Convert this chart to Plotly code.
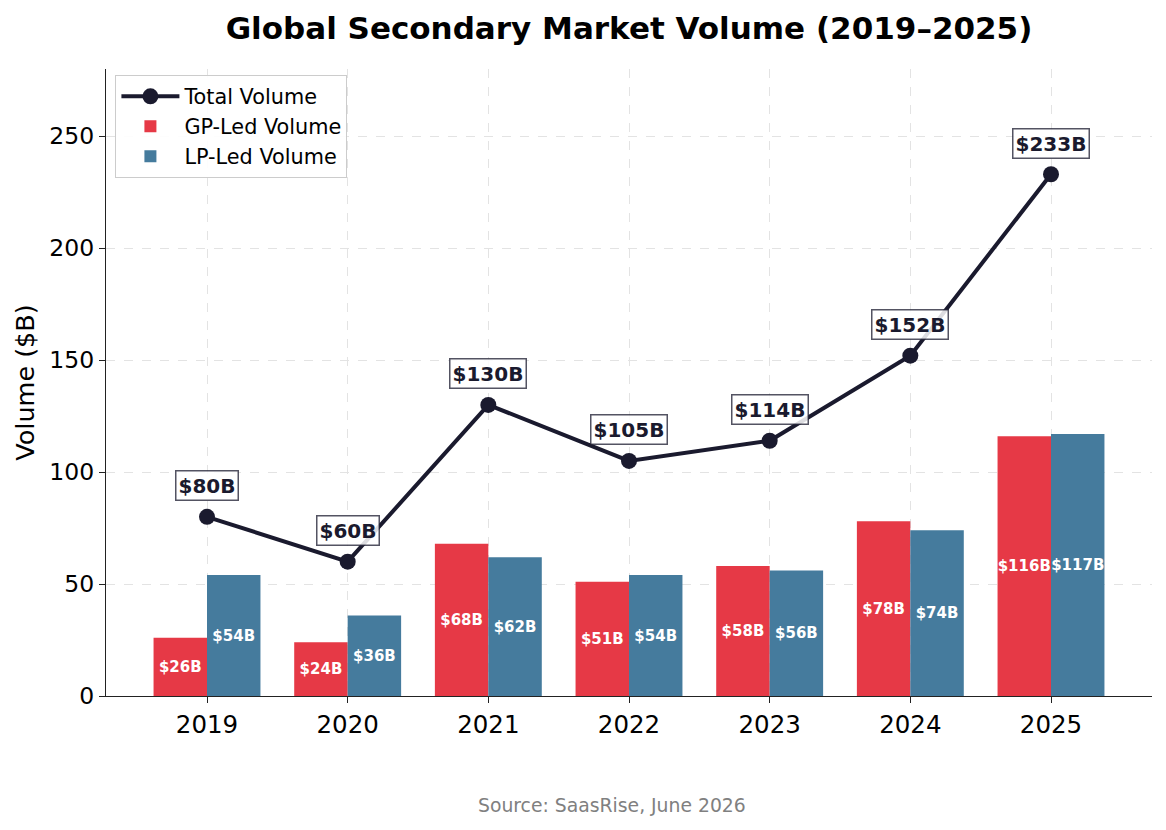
import plotly.graph_objects as go

years = [2019, 2020, 2021, 2022, 2023, 2024, 2025]
gp_led = [26, 24, 68, 51, 58, 78, 116]
lp_led = [54, 36, 62, 54, 56, 74, 117]
total = [80, 60, 130, 105, 114, 152, 233]
y_ticks = [0, 50, 100, 150, 200, 250]

RED = "#e63946"
BLUE = "#457b9d"
DARK = "#1a1a2e"
FONT = "DejaVu Sans"

fig = go.Figure()

fig.add_trace(go.Bar(
    x=years, y=gp_led, name="GP-Led Volume", marker_color=RED,
    marker_line_width=0,
    text=[f"${v}B" for v in gp_led], textposition="inside",
    insidetextanchor="middle", textangle=0, constraintext="none",
    textfont=dict(family=FONT, size=15, color="white", weight="bold"),
    legendrank=2,
))
fig.add_trace(go.Bar(
    x=years, y=lp_led, name="LP-Led Volume", marker_color=BLUE,
    marker_line_width=0,
    text=[f"${v}B" for v in lp_led], textposition="inside",
    insidetextanchor="middle", textangle=0, constraintext="none",
    textfont=dict(family=FONT, size=15, color="white", weight="bold"),
    legendrank=3,
))
fig.add_trace(go.Scatter(
    x=years, y=total, name="Total Volume", mode="lines+markers",
    line=dict(color=DARK, width=4), marker=dict(color=DARK, size=16),
    legendrank=1,
))

for yr, v in zip(years, total):
    fig.add_annotation(
        x=yr, y=v, xref="x", yref="y", text=f"<b>${v}B</b>", showarrow=False,
        yshift=31, font=dict(family=FONT, size=20, color=DARK),
        bgcolor="rgba(255,255,255,0.85)", bordercolor="rgba(26,26,46,0.75)",
        borderwidth=1.5, borderpad=2,
    )

fig.add_annotation(
    x=0.4833, y=-0.174, xref="paper", yref="paper", text="Source: SaasRise, June 2026",
    showarrow=False, font=dict(family=FONT, size=18.8, color="#808080"),
    xanchor="center", yanchor="middle",
)

fig.update_layout(
    width=1166, height=830,
    margin=dict(l=106, r=14, t=69, b=134),
    paper_bgcolor="white", plot_bgcolor="white",
    font=dict(family=FONT, color="black"),
    title=dict(text="<b>Global Secondary Market Volume (2019–2025)</b>",
               x=0.5, xref="paper", xanchor="center",
               y=1 - 28 / 830, yref="container", yanchor="middle",
               font=dict(family=FONT, size=31, color="black")),
    barmode="group", bargap=0.24, bargroupgap=0,
    showlegend=True,
    legend=dict(x=0.009, y=0.99, xanchor="left", yanchor="top",
                bgcolor="rgba(255,255,255,0.9)", bordercolor="#cccccc", borderwidth=1,
                font=dict(family=FONT, size=20.8, color="black"),
                itemwidth=58, tracegroupgap=0),
)

fig.update_xaxes(
    range=[2019 - 0.718, 2025 + 0.718], tickvals=years, ticktext=[str(y) for y in years],
    showline=True, linecolor="#222222", linewidth=1.3, mirror=False,
    ticks="outside", ticklen=6, tickwidth=1.3, tickcolor="#222222",
    tickfont=dict(family=FONT, size=24.5, color="black"),
    showgrid=True, gridcolor="#e3e3e3", griddash="dash", gridwidth=1.2,
    zeroline=False,
)
fig.update_yaxes(
    range=[0, 280], tickvals=y_ticks,
    showline=True, linecolor="#222222", linewidth=1.3, mirror=False,
    ticks="outside", ticklen=6, tickwidth=1.3, tickcolor="#222222",
    tickfont=dict(family=FONT, size=23.5, color="black"),
    showgrid=True, gridcolor="#e3e3e3", griddash="dash", gridwidth=1.2,
    zeroline=False,
    title=dict(text="Volume ($B)", font=dict(family=FONT, size=25.5, color="black"), standoff=7),
)

fig.write_html("out.html")
